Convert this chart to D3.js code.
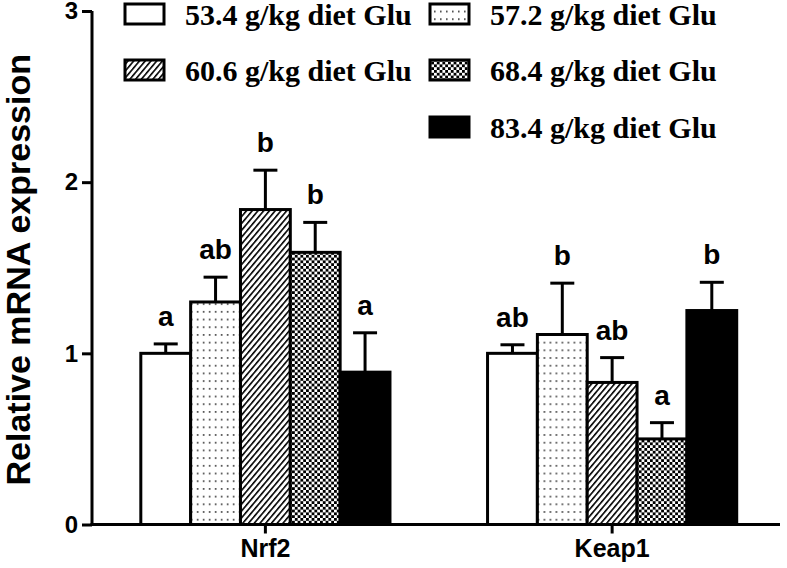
<!DOCTYPE html>
<html>
<head>
<meta charset="utf-8">
<script src="https://cdn.jsdelivr.net/npm/d3@7/dist/d3.min.js"></script>
<style>
html,body{margin:0;padding:0;background:#fff;}
svg{display:block;}
</style>
</head>
<body>
<svg id="chart" width="787" height="568"></svg>
<script>
// ---- data ----
const genes = ["Nrf2", "Keap1"];
const groups = ["53.4 g/kg diet Glu", "57.2 g/kg diet Glu", "60.6 g/kg diet Glu", "68.4 g/kg diet Glu", "83.4 g/kg diet Glu"];
const nrf2Means = [1.00, 1.30, 1.84, 1.59, 0.89];
const nrf2Errors = [0.055, 0.145, 0.23, 0.175, 0.23];
const nrf2Letters = ["a", "ab", "b", "b", "a"];
const keap1Means = [1.00, 1.11, 0.83, 0.50, 1.25];
const keap1Errors = [0.05, 0.30, 0.145, 0.095, 0.165];
const keap1Letters = ["ab", "b", "ab", "a", "b"];
const yTicks = [0, 1, 2, 3];
const yLabel = "Relative mRNA expression";

const seriesByGene = {
  Nrf2: {means: nrf2Means, errors: nrf2Errors, letters: nrf2Letters},
  Keap1: {means: keap1Means, errors: keap1Errors, letters: keap1Letters}
};
const fills = ["#fff", "url(#pDots)", "url(#pHatch)", "url(#pCheck)", "#000"];

const svg = d3.select("#chart");
const defs = svg.append("defs");

// dotted
const pd = defs.append("pattern").attr("id", "pDots").attr("patternUnits", "userSpaceOnUse")
  .attr("width", 6).attr("height", 7.7);
pd.append("rect").attr("width", 6).attr("height", 7.7).attr("fill", "#fff");
pd.append("rect").attr("x", 2).attr("y", 3).attr("width", 1.6).attr("height", 1.6).attr("fill", "#333");
// hatch
const ph = defs.append("pattern").attr("id", "pHatch").attr("patternUnits", "userSpaceOnUse")
  .attr("width", 4.4).attr("height", 10).attr("patternTransform", "rotate(40)");
ph.append("rect").attr("width", 4.4).attr("height", 10).attr("fill", "#fff");
ph.append("rect").attr("x", 0).attr("y", 0).attr("width", 1.6).attr("height", 10).attr("fill", "#000");
// checker
const pc = defs.append("pattern").attr("id", "pCheck").attr("patternUnits", "userSpaceOnUse")
  .attr("width", 5.6).attr("height", 5.6);
pc.append("rect").attr("width", 5.6).attr("height", 5.6).attr("fill", "#fff");
pc.append("rect").attr("x", 0).attr("y", 0).attr("width", 2.8).attr("height", 2.8).attr("fill", "#000");
pc.append("rect").attr("x", 2.8).attr("y", 2.8).attr("width", 2.8).attr("height", 2.8).attr("fill", "#000");

// ---- scales ----
const y = d3.scaleLinear().domain([0, 3]).range([524.5, 11]);
const x0 = d3.scaleBand().domain(genes).range([92, 780])
  .paddingInner(0.2814).paddingOuter(0.1328).align(0.53);
const x1 = d3.scaleBand().domain(d3.range(groups.length)).range([0, x0.bandwidth()]).padding(0);

const sans = "'Liberation Sans', Arial, Helvetica, sans-serif";
const serif = "'Liberation Serif', 'Times New Roman', serif";

// ---- bars ----
genes.forEach(g => {
  const s = seriesByGene[g];
  const gg = svg.append("g").attr("transform", `translate(${x0(g)},0)`);
  s.means.forEach((m, i) => {
    const bx = x1(i), bw = x1.bandwidth();
    const cx = bx + bw / 2;
    gg.append("line").attr("x1", cx).attr("x2", cx)
      .attr("y1", y(m)).attr("y2", y(m + s.errors[i]))
      .attr("stroke", "#000").attr("stroke-width", 3);
    gg.append("line").attr("x1", cx - 12).attr("x2", cx + 12)
      .attr("y1", y(m + s.errors[i])).attr("y2", y(m + s.errors[i]))
      .attr("stroke", "#000").attr("stroke-width", 3);
    gg.append("rect").attr("x", bx).attr("y", y(m)).attr("width", bw)
      .attr("height", y(0) - y(m)).attr("fill", fills[i])
      .attr("stroke", "#000").attr("stroke-width", 3);
    gg.append("text").attr("x", cx).attr("y", y(m + s.errors[i]) - 18)
      .attr("text-anchor", "middle").attr("font-family", sans)
      .attr("font-weight", "bold").attr("font-size", 28).text(s.letters[i]);
  });
});

// ---- axes ----
const yAxis = svg.append("g").attr("transform", "translate(92,0)")
  .call(d3.axisLeft(y).tickValues(yTicks).tickFormat(d3.format("d")).tickSize(10).tickPadding(4));
yAxis.select(".domain").attr("stroke-width", 3).attr("d", `M0,${y(3)}V${y(0)}`);
yAxis.selectAll(".tick line").attr("stroke-width", 3);
yAxis.selectAll(".tick text").attr("font-family", sans).attr("font-weight", "bold")
  .attr("font-size", 24).attr("fill", "#000");

const xAxis = svg.append("g").attr("transform", `translate(0,${y(0)})`)
  .call(d3.axisBottom(x0).tickSize(9).tickPadding(6).tickSizeOuter(0));
xAxis.select(".domain").attr("stroke-width", 3).attr("d", `M90.5,0H780`);
xAxis.selectAll(".tick line").attr("stroke-width", 3);
xAxis.selectAll(".tick text").attr("font-family", sans).attr("font-weight", "bold")
  .attr("font-size", 25).attr("fill", "#000");

svg.append("text").attr("transform", `translate(30,${(y(0) + y(3)) / 2 + 2}) rotate(-90)`)
  .attr("text-anchor", "middle").attr("font-family", sans).attr("font-weight", "bold")
  .attr("font-size", 34).text(yLabel);

// ---- legend ----
const legPos = [[125, 4], [430, 4], [125, 60], [430, 60], [430, 117]];
groups.forEach((name, i) => {
  const [lx, ly] = legPos[i];
  svg.append("rect").attr("x", lx).attr("y", ly).attr("width", 39).attr("height", 20)
    .attr("fill", fills[i]).attr("stroke", "#000").attr("stroke-width", 3);
  svg.append("text").attr("x", lx + 60).attr("y", ly + 21)
    .attr("font-family", serif).attr("font-weight", "bold").attr("font-size", 30)
    .attr("fill", "#000").text(name);
});
</script>
</body>
</html>
